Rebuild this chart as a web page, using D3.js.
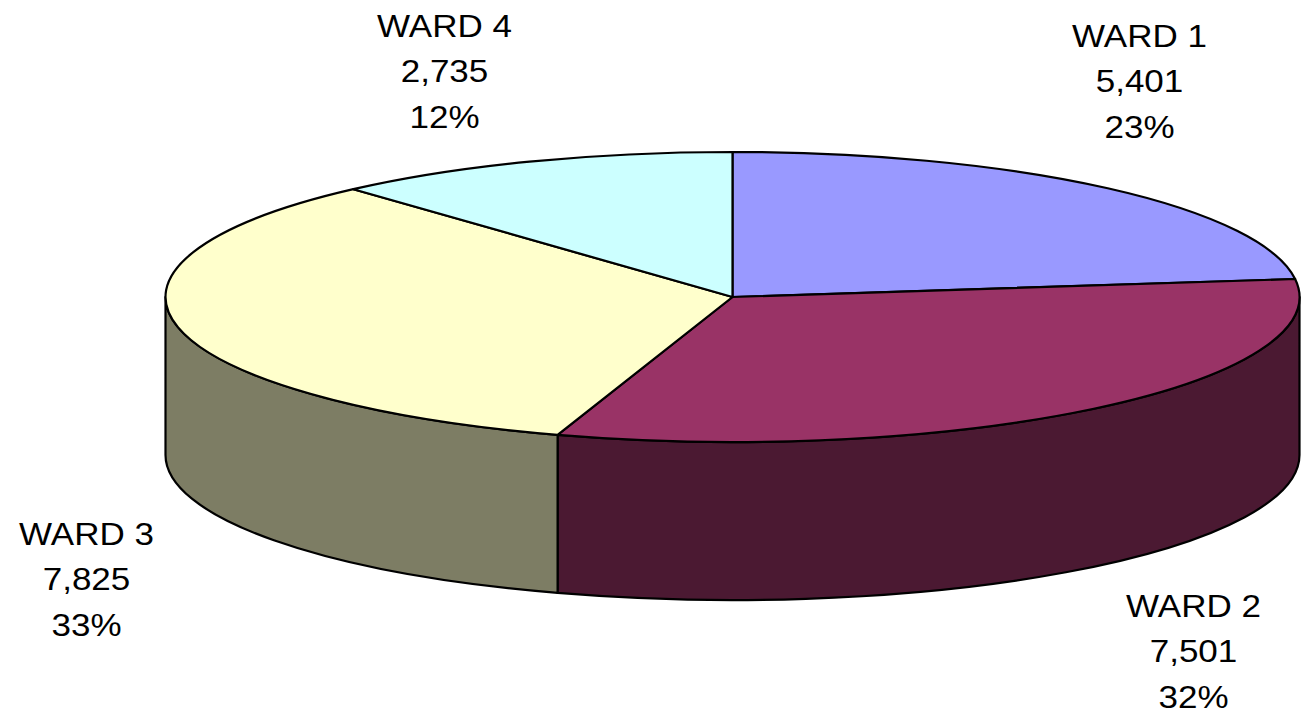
<!DOCTYPE html>
<html>
<head>
<meta charset="utf-8">
<script src="https://cdn.jsdelivr.net/npm/d3@7"></script>
<style>
	html, body { margin: 0; padding: 0; background: #fff; }
	svg { display: block; }
	text { font-family: 'Liberation Sans', Arial, sans-serif; fill: #000; }
</style>
</head>
<body>
<div class="graphic__chart"></div>
<script>
// data
const wards = ['WARD 1', 'WARD 2', 'WARD 3', 'WARD 4']
const voters = [5401, 7501, 7825, 2735]
const sliceColors = ['#9999FF', '#993366', '#FFFFCC', '#CCFFFF']

const WIDTH = 1302
const HEIGHT = 722
const CX = 732.5
const CY = 297
const RX = 567
const RY = 145
const DEPTH = 158
const FONT_SIZE = 31
const LINE_HEIGHT = 45.5
const STRETCH = 1.13
const STROKE = 2.2

// label block anchor (center x, first baseline) relative to the pie centre
const labelShift = [[407, -250], [461, 320], [-646, 248], [-288, -260]]

const svg = d3.select('.graphic__chart').append('svg')
	.attr('width', WIDTH)
	.attr('height', HEIGHT)

const total = d3.sum(voters)
const rows = wards.map((name, i) => ({ name, value: voters[i], color: sliceColors[i], i }))

const pie = d3.pie().sort(null).value(d => d.value)
const arcs = pie(rows)

function pt(a, dy = 0) {
	return [CX + RX * Math.sin(a), CY - RY * Math.cos(a) + dy]
}

// side walls (front half only: angles between 90 and 270 degrees)
const sides = svg.append('g').attr('class', 'sides')
arcs.forEach((d) => {
	const a = Math.max(d.startAngle, Math.PI / 2)
	const b = Math.min(d.endAngle, Math.PI * 1.5)
	if (b <= a) return
	const p0 = pt(a), p1 = pt(b)
	const q0 = pt(a, DEPTH), q1 = pt(b, DEPTH)
	const path = `M${p0}A${RX},${RY} 0 0 1 ${p1}L${q1}A${RX},${RY} 0 0 0 ${q0}Z`
	sides.append('path')
		.attr('d', path)
		.attr('fill', d3.rgb(d.data.color).darker(2).toString())
		.attr('stroke', '#000')
		.attr('stroke-width', STROKE)
		.attr('stroke-linejoin', 'round')
})

// top face
const arc = d3.arc().innerRadius(0).outerRadius(RX)
const face = svg.append('g')
	.attr('transform', `translate(${CX},${CY}) scale(1,${RY / RX})`)

face.selectAll('path')
	.data(arcs)
	.enter().append('path')
		.attr('d', arc)
		.attr('fill', d => d.data.color)
		.attr('stroke', '#000')
		.attr('stroke-width', STROKE)
		.attr('stroke-linejoin', 'round')
		.attr('vector-effect', 'non-scaling-stroke')

// labels
const fmt = d3.format(',')
const labels = svg.append('g').attr('class', 'labels')
arcs.forEach((d) => {
	const [dx, dy] = labelShift[d.data.i]
	const lines = [d.data.name, fmt(d.data.value), Math.round(d.data.value / total * 100) + '%']
	const t = labels.append('text')
		.attr('text-anchor', 'middle')
		.attr('font-size', FONT_SIZE)
		.attr('transform', `translate(${CX + dx},${CY + dy}) scale(${STRETCH},1)`)
	lines.forEach((s, k) => {
		t.append('tspan').attr('x', 0).attr('y', k * LINE_HEIGHT).text(s)
	})
})
</script>
</body>
</html>
